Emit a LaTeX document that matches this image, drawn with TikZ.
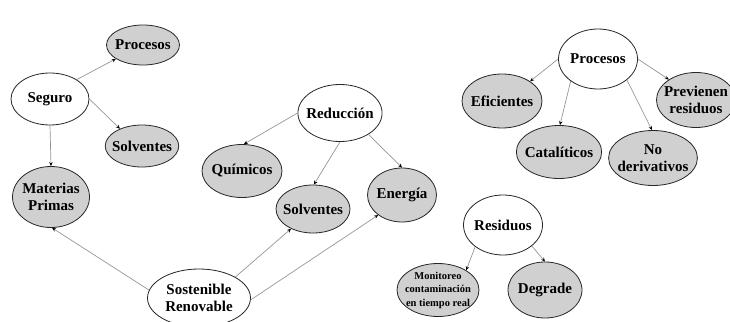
\documentclass[tikz,border=0pt]{standalone}
\usepackage{fontspec}
\setmainfont{Liberation Serif}
\usetikzlibrary{shapes.geometric,arrows.meta}
\definecolor{linegray}{RGB}{150,150,150}
\definecolor{fillgray}{RGB}{208,208,208}
\tikzset{
  base/.style={ellipse, draw=black!85, line width=0.8pt, inner sep=-4pt, align=center,
    font=\fontsize{15}{17.5}\selectfont\bfseries},
  wnode/.style={base, fill=white},
  gnode/.style={base, fill=fillgray},
  conn/.style={draw=linegray, line width=0.7pt, -{Stealth[length=4pt,width=3.5pt,color=black]}}
}
\begin{document}
\begin{tikzpicture}[x=1pt,y=-1pt]
\useasboundingbox (0,0) rectangle (730,321);
% left cluster
\node[wnode, minimum width=78pt, minimum height=52pt] (seg) at (50,99) {Seguro};
\node[gnode, minimum width=73pt, minimum height=40pt] (proL) at (143,45) {Procesos};
\node[gnode, minimum width=73pt, minimum height=42pt] (solL) at (142,146) {Solventes};
\node[gnode, minimum width=77pt, minimum height=61pt] (mat) at (51,197) {Materias\\Primas};
\node[wnode, minimum width=103pt, minimum height=58pt] (sos) at (199,298) {Sostenible\\Renovable};
% middle cluster
\node[wnode, minimum width=79pt, minimum height=57pt] (red) at (340,113) {Reducción};
\node[gnode, minimum width=80pt, minimum height=53pt] (qui) at (242,171) {Químicos};
\node[gnode, minimum width=74pt, minimum height=48pt] (solM) at (313,209) {Solventes};
\node[gnode, minimum width=69pt, minimum height=54pt] (ene) at (402,195) {Energía};
% right cluster
\node[wnode, minimum width=79pt, minimum height=60pt] (proR) at (598,59) {Procesos};
\node[gnode, minimum width=80pt, minimum height=54pt] (efi) at (502,101) {Eficientes};
\node[gnode, minimum width=80pt, minimum height=53pt] (cat) at (559,152) {Catalíticos};
\node[gnode, minimum width=87pt, minimum height=55pt] (nod) at (653,158) {No\\derivativos};
\node[gnode, minimum width=76pt, minimum height=55pt] (pre) at (696,100) {Previenen\\residuos};
\node[wnode, minimum width=79pt, minimum height=60pt] (res) at (503,225) {Residuos};
\node[gnode, minimum width=82pt, minimum height=53pt, inner sep=-10pt,
  font=\fontsize{10.5}{13.5}\selectfont\bfseries] (mon) at (438,290) {Monitoreo\\contaminación\\en tiempo real};
\node[gnode, minimum width=74pt, minimum height=56pt] (deg) at (545,290) {Degrade};
% connectors
\draw[conn] (seg.36) -- (proL.207);
\draw[conn] (seg.0) -- (solL.142);
\draw[conn] (seg.270) -- (mat.90);
\draw[conn] (sos.171) -- (mat.272);
\draw[conn] (sos.30) -- (solM.222);
\draw[conn] (sos.358) -- (ene.220);
\draw[conn] (red.180) -- (qui.86);
\draw[conn] (red.270) -- (solM.88);
\draw[conn] (red.323) -- (ene.90);
\draw[conn] (proR.180) -- (efi.35);
\draw[conn] (proR.219) -- (cat.88);
\draw[conn] (proR.324) -- (nod.92);
\draw[conn] (proR.0) -- (pre.143);
\draw[conn] (res.218) -- (mon.35);
\draw[conn] (res.324) -- (deg.90);
\end{tikzpicture}
\end{document}
